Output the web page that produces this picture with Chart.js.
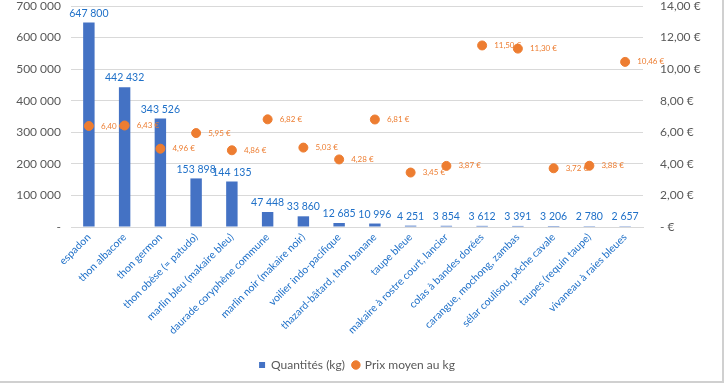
<!DOCTYPE html>
<html>
<head>
<meta charset="utf-8">
<script src="https://cdn.jsdelivr.net/npm/chart.js@4"></script>
<style>
    html, body { margin: 0; padding: 0; background: #fff; }
    #wrap {
        position: relative;
        width: 722px;
        height: 381px;
        border-right: 2px solid #d0d0d0;
        border-bottom: 2px solid #d0d0d0;
    }
</style>
</head>
<body>
<div id="wrap"><canvas id="chart" width="722" height="381"></canvas></div>
<script>
    // Espèces (catégories)
    const especes = [
        'espadon',
        'thon albacore',
        'thon germon',
        'thon obèse (= patudo)',
        'marlin bleu (makaire bleu)',
        'daurade coryphène commune',
        'marlin noir (makaire noir)',
        'voilier indo-pacifique',
        'thazard-bâtard, thon banane',
        'taupe bleue',
        'makaire à rostre court, lancier',
        'colas à bandes dorées',
        'carangue, mochong, zambas',
        'sélar coulisou, pêche cavale',
        'taupes (requin taupe)',
        'vivaneau à raies bleues'
    ];

    // Quantités (kg)
    const quantites = [647800, 442432, 343526, 153898, 144135, 47448, 33860, 12685,
        10996, 4251, 3854, 3612, 3391, 3206, 2780, 2657];

    // Prix moyen au kg (€)
    const prix = [6.40, 6.43, 4.96, 5.95, 4.86, 6.82, 5.03, 4.28,
        6.81, 3.45, 3.87, 11.50, 11.30, 3.72, 3.88, 10.46];

    // Graduations
    const ticksQuantite = [0, 100000, 200000, 300000, 400000, 500000, 600000, 700000];
    const ticksPrix = [0, 2, 4, 6, 8, 10, 12, 14];

    const FONT = 'Lato, "Open Sans", sans-serif';
    const BLEU = '#4472C4';
    const BLEU_TXT = '#1F70C8';
    const ORANGE = '#ED7D31';
    const GRIS = '#595959';

    const fmtKg = v => v === 0 ? '-' : Math.round(v).toString().replace(/\B(?=(\d{3})+(?!\d))/g, ' ');
    const fmtEur = v => v === 0 ? '- €' : v.toFixed(2).replace('.', ',') + ' €';

    // pas de marge auto autour de la zone de tracé
    const noPad = scale => {
        scale.paddingTop = 0;
        scale.paddingBottom = 0;
        scale.paddingLeft = 0;
        scale.paddingRight = 0;
    };

    /** Étiquettes de données */
    const valueLabels = {
        id: 'valueLabels',
        afterDatasetsDraw(chart) {
            const ctx = chart.ctx;
            ctx.save();

            chart.getDatasetMeta(0).data.forEach((bar, i) => {
                ctx.font = '10.5px ' + FONT;
                ctx.fillStyle = BLEU_TXT;
                ctx.textAlign = 'center';
                ctx.textBaseline = 'bottom';
                ctx.fillText(fmtKg(quantites[i]), bar.x, bar.y - 4);
            });

            chart.getDatasetMeta(1).data.forEach((pt, i) => {
                ctx.font = '8px ' + FONT;
                ctx.fillStyle = ORANGE;
                ctx.textAlign = 'left';
                ctx.textBaseline = 'middle';
                ctx.fillText(fmtEur(prix[i]), pt.x + 12, pt.y);
            });

            ctx.restore();
        }
    };

    new Chart(document.getElementById('chart'), {
        data: {
            labels: especes,
            datasets: [{
                type: 'bar',
                label: 'Quantités (kg)',
                data: quantites,
                backgroundColor: BLEU,
                barPercentage: 0.64,
                categoryPercentage: 0.5,
                yAxisID: 'y',
                pointStyle: 'rect',
                order: 2
            }, {
                type: 'line',
                label: 'Prix moyen au kg',
                data: prix,
                showLine: false,
                pointRadius: 4.5,
                pointBackgroundColor: ORANGE,
                pointBorderColor: ORANGE,
                backgroundColor: ORANGE,
                borderColor: ORANGE,
                pointStyle: 'circle',
                yAxisID: 'y1',
                order: 1
            }]
        },
        options: {
            responsive: false,
            animation: false,
            layout: { padding: { top: 6, left: 0, right: 8, bottom: 0 } },
            plugins: {
                tooltip: { enabled: false },
                legend: {
                    position: 'bottom',
                    labels: {
                        usePointStyle: true,
                        boxWidth: 6,
                        boxHeight: 6,
                        padding: 8,
                        color: GRIS,
                        font: { family: FONT, size: 12 },
                        sort: (a, b) => a.datasetIndex - b.datasetIndex
                    }
                }
            },
            scales: {
                x: {
                    grid: { display: false, drawTicks: false },
                    border: { color: '#d9d9d9' },
                    ticks: {
                        autoSkip: false,
                        maxRotation: 45,
                        minRotation: 45,
                        padding: 4,
                        color: BLEU_TXT,
                        font: { family: FONT, size: 10.5 }
                    },
                    afterFit(scale) { noPad(scale); scale.height = 124; }
                },
                y: {
                    position: 'left',
                    min: 0,
                    max: 700000,
                    afterBuildTicks(scale) { scale.ticks = ticksQuantite.map(v => ({ value: v })); },
                    grid: { color: '#d9d9d9', drawTicks: false },
                    border: { display: false },
                    ticks: {
                        padding: 10,
                        color: GRIS,
                        font: { family: FONT, size: 12 },
                        callback: v => fmtKg(v)
                    },
                    afterFit(scale) { noPad(scale); scale.width = 71; }
                },
                y1: {
                    position: 'right',
                    min: 0,
                    max: 14,
                    afterBuildTicks(scale) { scale.ticks = ticksPrix.map(v => ({ value: v })); },
                    grid: { display: false, drawTicks: false },
                    border: { display: false },
                    ticks: {
                        padding: 17,
                        color: GRIS,
                        font: { family: FONT, size: 12 },
                        callback: v => fmtEur(v)
                    },
                    afterFit(scale) { noPad(scale); scale.width = 71; }
                }
            }
        },
        plugins: [valueLabels]
    });
</script>
</body>
</html>
